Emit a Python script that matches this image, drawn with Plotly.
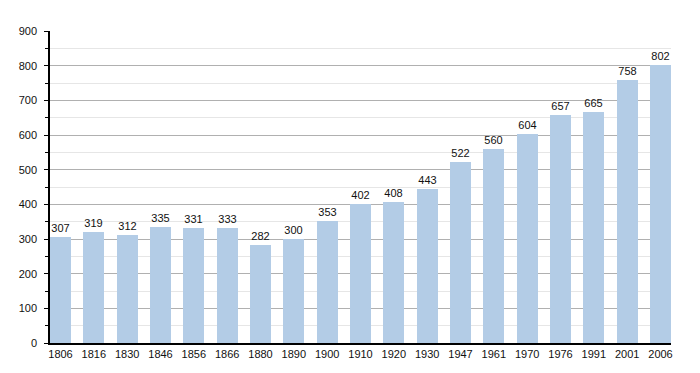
import plotly.graph_objects as go

years = ["1806", "1816", "1830", "1846", "1856", "1866", "1880", "1890", "1900", "1910",
         "1920", "1930", "1947", "1961", "1970", "1976", "1991", "2001", "2006"]
population = [307, 319, 312, 335, 331, 333, 282, 300, 353, 402,
              408, 443, 522, 560, 604, 657, 665, 758, 802]
y_ticks = [0, 100, 200, 300, 400, 500, 600, 700, 800, 900]

fig = go.Figure()
fig.add_trace(go.Bar(
    x=list(range(len(years))), y=population,
    width=0.63,
    marker=dict(color="#b3cce6", line=dict(width=0)),
    text=[str(v) for v in population], textposition="outside",
    textfont=dict(family="Liberation Sans, Arial, sans-serif", size=11, color="#111111"),
    cliponaxis=False,
    hoverinfo="skip",
))

fig.update_layout(
    width=700, height=373,
    margin=dict(l=50, r=29, t=31, b=30),
    paper_bgcolor="white", plot_bgcolor="white",
    showlegend=False,
    font=dict(family="Liberation Sans, Arial, sans-serif", size=11, color="#111111"),
    xaxis=dict(
        tickmode="array", tickvals=list(range(len(years))), ticktext=years,
        range=[-0.315, len(years) - 1 + 0.315],
        showgrid=False, showline=True, linecolor="black", linewidth=1.5,
        ticks="", zeroline=False, tickfont=dict(size=11, color="#111111"),
    ),
    yaxis=dict(
        range=[0, 900], tickvals=y_ticks, ticktext=[str(t) for t in y_ticks],
        showgrid=True, gridcolor="#b0b0b0", gridwidth=1,
        showline=True, linecolor="black", linewidth=1.5,
        ticks="outside", ticklen=4, tickcolor="black", zeroline=False,
        ticklabelstandoff=5,
        minor=dict(dtick=50, showgrid=True, gridcolor="#e6e6e6", ticks="outside",
                   ticklen=3, tickcolor="black"),
        tickfont=dict(size=11, color="#111111"),
    ),
    bargap=0,
)

fig.write_html("out.html", config={"displayModeBar": False},
               post_script="document.body.style.margin='0';")
